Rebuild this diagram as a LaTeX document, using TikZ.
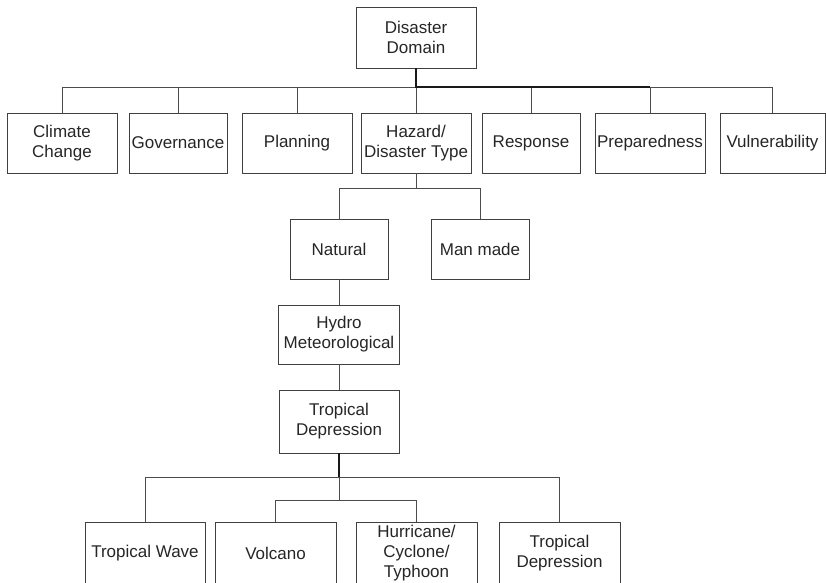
\documentclass[tikz,border=0pt]{standalone}
\usepackage{fontspec}
\setmainfont{Liberation Sans}
\begin{document}
\begin{tikzpicture}[x=1pt, y=-1pt,
  box/.style={draw=black!75, line width=0.9pt, fill=white, inner sep=0pt, align=center,
    font=\fontsize{17}{20}\selectfont, text=black!85},
  link/.style={draw=black!70, line width=0.9pt},
  trunk/.style={draw=black!90, line width=1.5pt}]

\useasboundingbox (0,0) rectangle (826,582);
\clip (0,0) rectangle (826,582);

% root
\node[box, minimum width=120pt, minimum height=61pt] (dom) at (416,37.5) {Disaster\\Domain};

% domain row
\node[box, minimum width=110pt, minimum height=60pt] (cc) at (62,143) {Climate\\Change};
\node[box, minimum width=98pt, minimum height=60pt] (gov) at (178,143) {Governance};
\node[box, minimum width=110pt, minimum height=60pt] (plan) at (297,143) {Planning};
\node[box, minimum width=110pt, minimum height=60pt] (haz) at (416,143) {Hazard/\\Disaster Type};
\node[box, minimum width=98pt, minimum height=60pt] (resp) at (531,143) {Response};
\node[box, minimum width=110pt, minimum height=60pt] (prep) at (650,143) {Preparedness};
\node[box, minimum width=105pt, minimum height=60pt] (vul) at (772.5,143) {Vulnerability};

% hazard types
\node[box, minimum width=98pt, minimum height=60pt] (nat) at (339,249) {Natural};
\node[box, minimum width=98pt, minimum height=60pt] (man) at (480,249) {Man made};
\node[box, minimum width=121pt, minimum height=59pt] (hyd) at (339,334.5) {Hydro\\Meteorological};
\node[box, minimum width=120pt, minimum height=63pt] (tdep) at (339,421.5) {Tropical\\Depression};

% leaves
\node[box, minimum width=120pt, minimum height=62pt] (tw) at (145,553) {Tropical Wave};
\node[box, minimum width=121pt, minimum height=62pt] (vol) at (275.5,553) {Volcano};
\node[box, minimum width=121pt, minimum height=62pt] (hur) at (416.5,553) {Hurricane/\\Cyclone/\\Typhoon};
\node[box, minimum width=121pt, minimum height=62pt] (td) at (559.5,553) {Tropical\\Depression};

% bus levels
\coordinate (busA) at (416,87);
\coordinate (busB) at (416,188);
\coordinate (busC) at (339,477);
\coordinate (busD) at (339,500.7);

% connectors
\foreach \n in {cc,gov,plan,haz,resp,prep,vul}
  \draw[link] (dom.south |- busA) -| (\n.north);
\draw[trunk] (dom.south) -- (dom.south |- busA) -- (prep.north |- busA);

\draw[link] (haz.south) -- (busB) -| (nat.north);
\draw[link] (busB) -| (man.north);
\draw[link] (nat.south) -- (hyd.north);
\draw[link] (hyd.south) -- (tdep.north);

\draw[link] (busC) -| (tw.north);
\draw[link] (busC) -| (td.north);
\draw[link] (busC) -- (busD);
\draw[link] (busD) -| (vol.north);
\draw[link] (busD) -| (hur.north);
\draw[trunk] (tdep.south) -- (busC);

\end{tikzpicture}
\end{document}
